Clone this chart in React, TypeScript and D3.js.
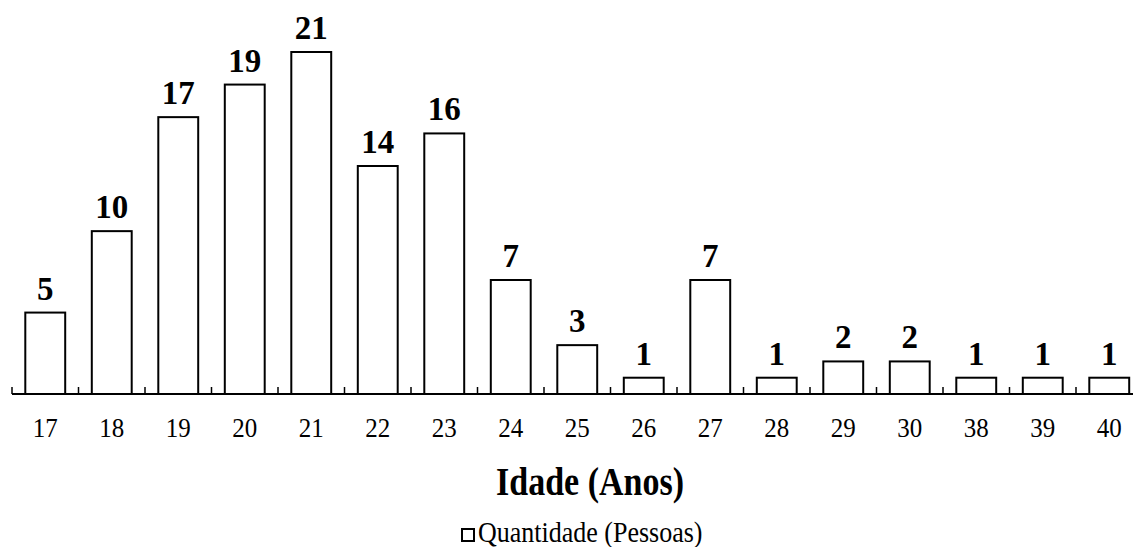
import React from 'react';
import * as d3 from 'd3';

const ages = ['17', '18', '19', '20', '21', '22', '23', '24', '25', '26', '27', '28', '29', '30', '38', '39', '40'];
const counts = [5, 10, 17, 19, 21, 14, 16, 7, 3, 1, 7, 1, 2, 2, 1, 1, 1];

const W = 1133;
const H = 547;
const baseY = 394;
const serif = '"Liberation Serif", "Times New Roman", serif';

// text in the source image is slightly stretched vertically
const stretch = (x: number, y: number, k: number) => `translate(${x},${y}) scale(1,${k})`;

const App: React.FC = () => {
  const x = d3.scaleBand<string>()
    .domain(ages)
    .range([12, 12 + 66.5 * ages.length])
    .paddingInner(0.4)
    .paddingOuter(0.2);

  const y = d3.scaleLinear()
    .domain([0, 21])
    .range([baseY, 52]);

  const step = x.step();
  const x0 = 12;
  const tickXs = d3.range(ages.length + 1).map(i => x0 + i * step);

  return (
    <svg width={W} height={H} style={{ position: 'absolute', left: 0, top: 0, background: '#fff' }}>
      {/* bars */}
      {ages.map((a, i) => {
        const cx = x(a)! + x.bandwidth() / 2;
        return (
          <g key={a}>
            <rect
              x={x(a)!}
              y={y(counts[i])}
              width={x.bandwidth()}
              height={baseY - y(counts[i])}
              fill="#fff"
              stroke="#000"
              strokeWidth={2}
            />
            <text
              x={cx}
              y={y(counts[i]) - 13}
              textAnchor="middle"
              fontFamily={serif}
              fontWeight="bold"
              fontSize={33}
            >
              {counts[i]}
            </text>
            <text
              transform={stretch(cx, 437, 1.12)}
              textAnchor="middle"
              fontFamily={serif}
              fontSize={25}
            >
              {a}
            </text>
          </g>
        );
      })}

      {/* axis */}
      <line x1={x0} x2={W} y1={baseY} y2={baseY} stroke="#000" strokeWidth={2} />
      {tickXs.map((t, i) => (
        <line key={i} x1={t} x2={t} y1={baseY} y2={baseY - 7} stroke="#000" strokeWidth={1.5} />
      ))}

      {/* axis title */}
      <text transform={stretch(590, 495, 1.15)} textAnchor="middle" fontFamily={serif} fontWeight="bold" fontSize={34}>
        Idade (Anos)
      </text>

      {/* legend */}
      <rect x={462} y={529} width={12} height={12} fill="#fff" stroke="#000" strokeWidth={2} />
      <text transform={stretch(478, 542, 1.1)} fontFamily={serif} fontSize={26}>
        Quantidade (Pessoas)
      </text>
    </svg>
  );
};

export default App;
